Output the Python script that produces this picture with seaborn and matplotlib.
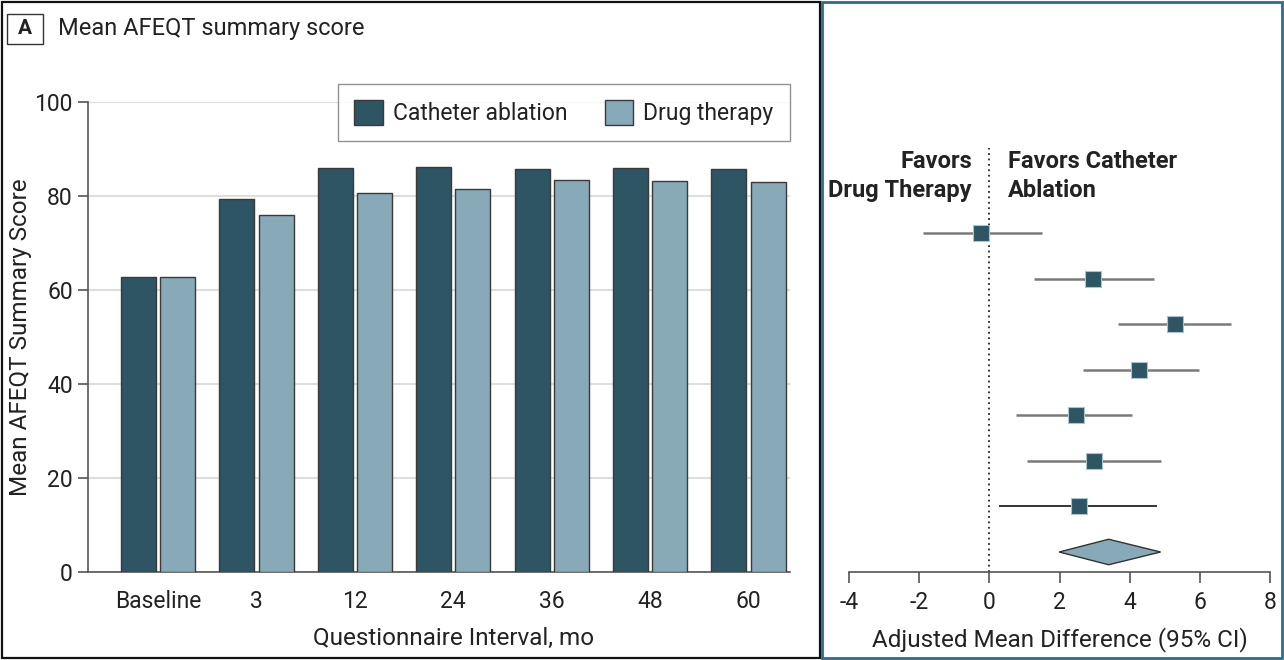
import matplotlib
matplotlib.use("Agg")
import matplotlib.pyplot as plt
from matplotlib.patches import Rectangle, Polygon
import seaborn as sns
import pandas as pd
import numpy as np

# ---- data ----
intervals = ["Baseline", "3", "12", "24", "36", "48", "60"]
catheter_ablation = [62.7, 79.4, 86.0, 86.2, 85.7, 85.9, 85.7]
drug_therapy = [62.8, 76.0, 80.6, 81.4, 83.4, 83.1, 82.9]
groups = ["Catheter ablation", "Drug therapy"]

diff_est = [-0.23, 2.96, 5.28, 4.26, 2.46, 2.97, 2.57]
diff_low = [-1.90, 1.27, 3.68, 2.67, 0.77, 1.08, 0.28]
diff_high = [1.50, 4.68, 6.89, 5.99, 4.08, 4.88, 4.79]
overall_est = 3.40
overall_low = 1.99
overall_high = 4.88
forest_ticks = [-4, -2, 0, 2, 4, 6, 8]

DARK = "#2e5563"
LIGHT = "#87a9b8"
TEAL = "#2b6d8c"
TXT = "#222222"

sns.set_theme(style="white")
plt.rcParams["font.family"] = ["Roboto", "DejaVu Sans"]
plt.rcParams["text.color"] = TXT
plt.rcParams["axes.labelcolor"] = TXT
plt.rcParams["xtick.color"] = TXT
plt.rcParams["ytick.color"] = TXT

W, H = 1284, 660
fig = plt.figure(figsize=(W / 100, H / 100), dpi=100)

def fx(px):
    return px / W

def fy(py):
    return 1 - py / H

# panel frames
fig.patches.append(Rectangle((fx(2), fy(658)), fx(818), 656 / H, transform=fig.transFigure,
                             fill=False, edgecolor="#111111", lw=1.6))
fig.patches.append(Rectangle((fx(822), fy(658)), fx(460), 656 / H, transform=fig.transFigure,
                             fill=False, edgecolor=TEAL, lw=2.0))

# "A" box and title
fig.patches.append(Rectangle((fx(7), fy(44)), fx(36), 30 / H, transform=fig.transFigure,
                             fill=False, edgecolor="#333333", lw=1.0))
fig.text(fx(25), fy(29), "A", ha="center", va="center", fontsize=15, fontweight="bold")
fig.text(fx(58), fy(28), "Mean AFEQT summary score", ha="left", va="center", fontsize=17)

# ---- left: bar chart ----
ax = fig.add_axes([fx(88), fy(572), fx(790 - 88), (572 - 102) / H])
df = pd.DataFrame({
    "Interval": intervals * 2,
    "Score": catheter_ablation + drug_therapy,
    "Group": [groups[0]] * len(intervals) + [groups[1]] * len(intervals),
})
sns.barplot(data=df, x="Interval", y="Score", hue="Group", order=intervals,
            hue_order=groups, palette=[DARK, LIGHT], saturation=1, width=0.8, gap=0.11,
            edgecolor="#3a3a3a", linewidth=1.0, ax=ax, zorder=3)
ax.set_ylim(0, 100)
ax.set_xlim(-0.71, 6.42)
ax.set_yticks([0, 20, 40, 60, 80, 100])
ax.yaxis.grid(True, color="#dedede", lw=1.5, zorder=0)
ax.set_axisbelow(True)
for s in ["top", "right"]:
    ax.spines[s].set_visible(False)
for s in ["left", "bottom"]:
    ax.spines[s].set_color("#555555")
    ax.spines[s].set_linewidth(1.2)
ax.tick_params(axis="y", length=7, width=1.2, color="#555555", labelsize=16.5, pad=4, left=True)
ax.tick_params(axis="x", length=0, labelsize=16.5, pad=13)
ax.set_ylabel("Mean AFEQT Summary Score", fontsize=17.5, labelpad=1.5)
ax.set_xlabel("Questionnaire Interval, mo", fontsize=17.5, labelpad=10)
xl0, xl1 = ax.get_xlim()
ax.xaxis.label.set_x((3 - xl0) / (xl1 - xl0))
leg = ax.legend(loc="upper right", bbox_to_anchor=(1.016, 1.062), ncol=2, fontsize=16.5,
                frameon=True, fancybox=False, edgecolor="#777777", handlelength=1.25,
                handleheight=1.25, columnspacing=1.6, handletextpad=0.45, borderpad=0.7,
                title=None)
leg.get_frame().set_linewidth(1.0)

# ---- right: forest plot ----
axf = fig.add_axes([fx(849), fy(572), fx(1270 - 849), (572 - 148) / H])
rows = np.arange(len(diff_est))
axf.hlines(rows[:-1], diff_low[:-1], diff_high[:-1], color="#7a7a7a", lw=1.8, zorder=2)
axf.hlines(rows[-1:], diff_low[-1:], diff_high[-1:], color="#333333", lw=1.4, zorder=2)
fdf = pd.DataFrame({"est": diff_est, "row": rows})
sns.scatterplot(data=fdf, x="est", y="row", marker="s", s=120, color=DARK,
                edgecolor="#a9c3cf", linewidth=0.8, ax=axf, zorder=3, legend=False)
yd = len(diff_est)
diamond = Polygon([[overall_low, yd], [overall_est, yd - 0.28], [overall_high, yd],
                   [overall_est, yd + 0.28]], closed=True, facecolor=LIGHT,
                  edgecolor="#333333", lw=1.0, zorder=3)
axf.add_patch(diamond)
axf.axvline(0, color="#222222", lw=1.3, ls=(0, (1, 2)), zorder=1)
axf.set_xlim(-4, 8)
axf.set_ylim(7 + 20 / 45.57, -85 / 45.57)
axf.set_xticks(forest_ticks)
axf.set_xticklabels([str(t) for t in forest_ticks])
axf.set_yticks([])
axf.set_ylabel("")
for s in ["top", "right", "left"]:
    axf.spines[s].set_visible(False)
axf.spines["bottom"].set_color("#555555")
axf.spines["bottom"].set_linewidth(1.2)
axf.tick_params(axis="x", length=8, width=1.2, color="#555555", labelsize=16.5, pad=6, bottom=True)
axf.set_xlabel("Adjusted Mean Difference (95% CI)", fontsize=17.5, labelpad=9)

fig.text(fx(972), fy(176), "Favors\nDrug Therapy", ha="right", va="center",
         fontsize=17, fontweight="bold", linespacing=1.35, multialignment="right")
fig.text(fx(1008), fy(176), "Favors Catheter\nAblation", ha="left", va="center",
         fontsize=17, fontweight="bold", linespacing=1.35, multialignment="left")

fig.savefig("out.png", dpi=100)
